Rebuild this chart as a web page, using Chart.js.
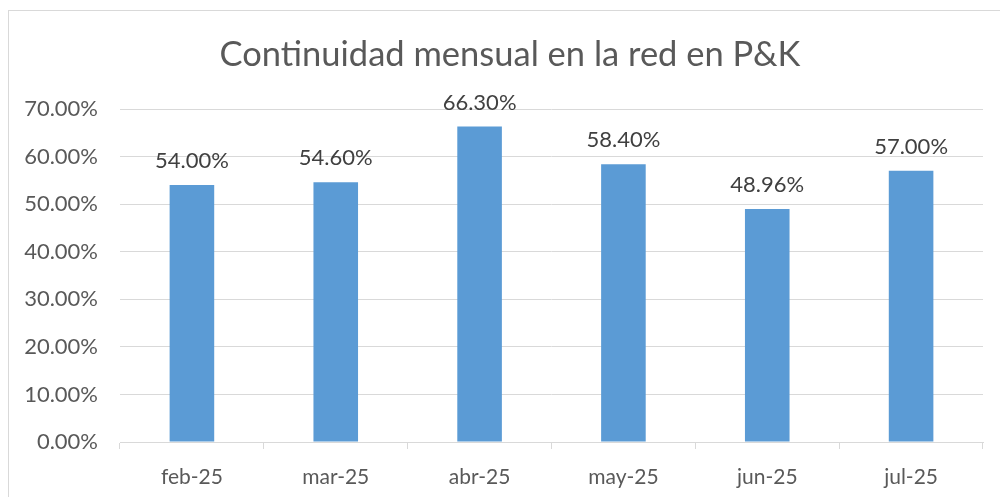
<!DOCTYPE html>
<html>
<head>
<meta charset="utf-8">
<script src="https://cdn.jsdelivr.net/npm/chart.js@4"></script>
<style>
  html, body { margin: 0; padding: 0; background: #fff; overflow: hidden; }
  #wrap { position: relative; width: 1000px; height: 497px; }
  #frame {
    position: absolute; left: 8px; top: 10px; width: 1100px; height: 600px;
    border: 1px solid #d9d9d9; pointer-events: none;
  }
</style>
</head>
<body>
<div id="wrap">
  <canvas id="chart" width="1000" height="497"></canvas>
  <div id="frame"></div>
</div>
<script>
const months = ["feb-25", "mar-25", "abr-25", "may-25", "jun-25", "jul-25"];
const continuity = [54.0, 54.6, 66.3, 58.4, 48.96, 57.0];
const yTicks = [0, 10, 20, 30, 40, 50, 60, 70];
const chartTitle = "Continuidad mensual en la red en P&K";

const fontFamily = "Lato, 'Open Sans', sans-serif";

// draws the value over each bar, like the excel data labels
const barLabels = {
  id: "barLabels",
  afterDatasetsDraw(chart) {
    const ctx = chart.ctx;
    const meta = chart.getDatasetMeta(0);
    ctx.save();
    ctx.font = "22px " + fontFamily;
    ctx.fillStyle = "#404040";
    ctx.textAlign = "center";
    ctx.textBaseline = "alphabetic";
    meta.data.forEach((bar, i) => {
      ctx.fillText(continuity[i].toFixed(2) + "%", bar.x, bar.y - 17);
    });
    ctx.restore();
  },
};

// title is centred on the whole excel frame, not the canvas
const frameTitle = {
  id: "frameTitle",
  afterDraw(chart) {
    const ctx = chart.ctx;
    ctx.save();
    ctx.font = "34.5px " + fontFamily;
    ctx.fillStyle = "#595959";
    ctx.textAlign = "center";
    ctx.textBaseline = "middle";
    ctx.fillText(chartTitle, 510, 55);
    ctx.restore();
  },
};

new Chart(document.getElementById("chart"), {
  type: "bar",
  data: {
    labels: months,
    datasets: [
      {
        data: continuity,
        backgroundColor: "#5b9bd5",
        barPercentage: 0.31,
        categoryPercentage: 1,
      },
    ],
  },
  options: {
    responsive: false,
    animation: false,
    layout: { padding: { left: 0, right: 17, top: 109, bottom: 0 } },
    plugins: {
      legend: { display: false },
      tooltip: { enabled: false },
      title: { display: false },
    },
    scales: {
      x: {
        afterFit: (scale) => { scale.height = 55; },
        grid: {
          drawOnChartArea: false,
          color: "#d9d9d9",
          tickLength: 7,
        },
        border: { color: "#d9d9d9", width: 1 },
        ticks: {
          color: "#595959",
          padding: 18,
          font: { family: fontFamily, size: 21, lineHeight: 1 },
        },
      },
      y: {
        min: 0,
        max: 70,
        afterFit: (scale) => { scale.width = 120; },
        afterBuildTicks: (scale) => {
          scale.ticks = yTicks.map((v) => ({ value: v }));
        },
        grid: { color: "#d9d9d9", drawTicks: false },
        border: { display: false },
        ticks: {
          color: "#595959",
          padding: 22,
          font: { family: fontFamily, size: 22 },
          callback: (v) => v.toFixed(2) + "%",
        },
      },
    },
  },
  plugins: [barLabels, frameTitle],
});
</script>
</body>
</html>
